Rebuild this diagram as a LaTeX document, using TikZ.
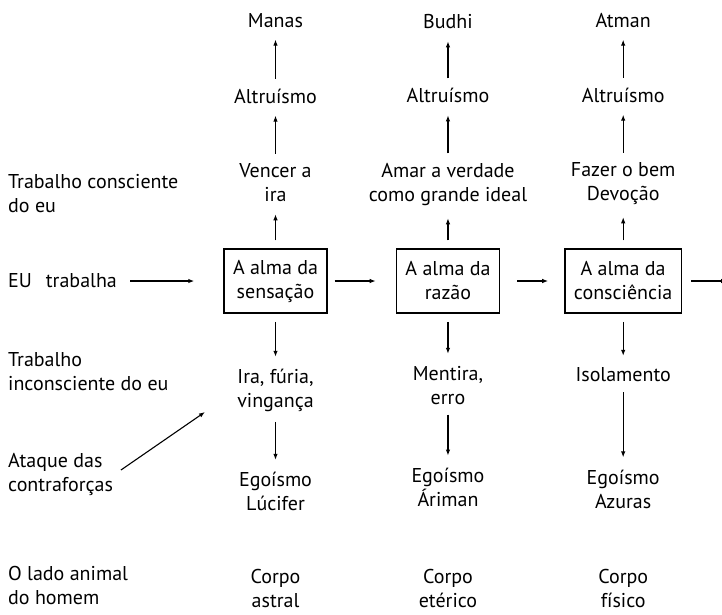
\documentclass[tikz,border=0pt]{standalone}
\usepackage{fontspec}
\setmainfont{PT Sans}
\usetikzlibrary{positioning,arrows.meta}

\begin{document}
\begin{tikzpicture}[
  x=1pt, y=1pt,
  font=\fontsize{20}{24}\selectfont,
  every node/.style={align=center},
  txt/.style={inner sep=2pt},
  lbl/.style={inner sep=2pt, anchor=west, align=left},
  alma/.style={draw, line width=1.5pt, inner xsep=9pt, minimum height=64pt},
  arr/.style={-{Latex[length=6pt,width=4.5pt]}, line width=1.1pt, shorten <=8pt, shorten >=10pt}
]
\useasboundingbox (0,0) rectangle (722,-614);

% as tres almas
\node[alma] (b1) at (275.5,-281) {A alma da\\sensação};
\node[alma, right=68pt of b1] (b2) {A alma da\\razão};
\node[alma, right=64pt of b2] (b3) {A alma da\\consciência};

% coluna 1
\node[txt, above=44pt of b1] (con1) {Vencer a\\ira};
\node[txt, above=56pt of con1] (alt1) {Altruísmo};
\node[txt, above=57pt of alt1] (top1) {Manas};
\node[txt, below=53pt of b1] (inc1) {Ira, fúria,\\vingança};
\node[txt, below=56pt of inc1] (ego1) {Egoísmo\\Lúcifer};
\node[txt, below=54pt of ego1] (cor1) {Corpo\\astral};

% coluna 2
\node[txt, above=40pt of b2] (con2) {Amar a verdade\\como grande ideal};
\node[txt, above=56pt of con2] (alt2) {Altruísmo};
\node[txt, above=55pt of alt2] (top2) {Budhi};
\node[txt, below=50pt of b2] (inc2) {Mentira,\\erro};
\node[txt, below=59pt of inc2] (ego2) {Egoísmo\\Áriman};
\node[txt, below=59pt of ego2] (cor2) {Corpo\\etérico};

% coluna 3
\node[txt, above=41pt of b3] (con3) {Fazer o bem\\Devoção};
\node[txt, above=56pt of con3] (alt3) {Altruísmo};
\node[txt, above=56pt of alt3] (top3) {Atman};
\node[txt, below=52pt of b3] (inc3) {Isolamento};
\node[txt, below=83pt of inc3] (ego3) {Egoísmo\\Azuras};
\node[txt, below=57pt of ego3] (cor3) {Corpo\\físico};

% rotulos da esquerda
\node[lbl] (tce) at (6,-194) {Trabalho consciente\\do eu};
\node[lbl] (eu) at (6,-281) {EU\hskip 14pt trabalha};
\node[lbl] (tin) at (6,-372) {Trabalho\\inconsciente do eu};
\node[lbl] (atq) at (6,-474) {Ataque das\\contraforças};
\node[lbl] (lad) at (6,-585) {O lado animal\\do homem};

\coordinate (atk) at (205,-412);
\coordinate (fim) at (727,-281);

\foreach \i in {1,2,3} {
  \draw[arr] (b\i) -- (con\i);
  \draw[arr] (con\i) -- (alt\i);
  \draw[arr] (alt\i) -- (top\i);
  \draw[arr] (b\i) -- (inc\i);
  \draw[arr] (inc\i) -- (ego\i);
}

\draw[arr, shorten <=11pt, shorten >=29pt] (eu) -- (b1);
\draw[arr, shorten <=7pt, shorten >=20pt] (b1) -- (b2);
\draw[arr, shorten <=17pt, shorten >=16pt] (b2) -- (b3);
\draw[arr, shorten <=9pt, shorten >=0pt] (b3) -- (fim);
\draw[arr, shorten <=7pt, shorten >=0pt] (atq.east) -- (atk);
\end{tikzpicture}
\end{document}
